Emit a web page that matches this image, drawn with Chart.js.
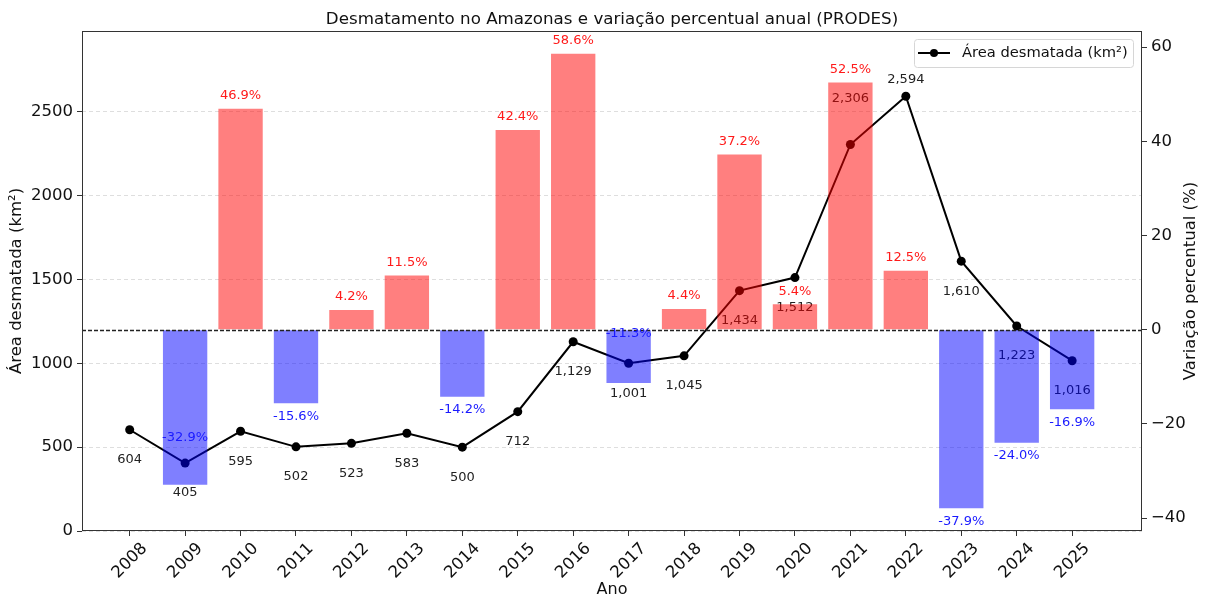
<!DOCTYPE html>
<html>
<head>
<meta charset="utf-8">
<script src="https://cdn.jsdelivr.net/npm/chart.js@4.4.1/dist/chart.umd.min.js"></script>
<style>
  html, body { margin: 0; padding: 0; background: #fff; }
</style>
</head>
<body>
<canvas id="chart" width="1205" height="598"></canvas>
<script>
// data
const years = [2008, 2009, 2010, 2011, 2012, 2013, 2014, 2015, 2016, 2017, 2018, 2019, 2020, 2021, 2022, 2023, 2024, 2025];
const area = [604, 405, 595, 502, 523, 583, 500, 712, 1129, 1001, 1045, 1434, 1512, 2306, 2594, 1610, 1223, 1016];
const pctChange = [null, -32.9, 46.9, -15.6, 4.2, 11.5, -14.2, 42.4, 58.6, -11.3, 4.4, 37.2, 5.4, 52.5, 12.5, -37.9, -24.0, -16.9];
const areaTicks = [0, 500, 1000, 1500, 2000, 2500];
const pctTicks = [-40, -20, 0, 20, 40, 60];

// label nudges (px) where the original labels were moved
const areaLabelGap = { 2021: -46, 2022: -17 };   // default: 30px below point
const pctLabelGap = { 2009: -47, 2017: -49 };    // default: 13px outside bar end

const FONT = "'DejaVu Sans', Verdana, sans-serif";
const TXT = '#111';

const annotate = {
  id: 'annotate',
  afterDatasetDraw(chart, args) {
    if (args.index !== 1) return;
    // area labels go under the translucent bars
    const ctx = chart.ctx;
    const meta = chart.getDatasetMeta(1);
    ctx.save();
    ctx.font = '13px ' + FONT;
    ctx.fillStyle = '#222';
    ctx.textAlign = 'center';
    ctx.textBaseline = 'middle';
    meta.data.forEach((pt, i) => {
      const gap = areaLabelGap[years[i]] !== undefined ? areaLabelGap[years[i]] : 30;
      ctx.fillText(area[i].toLocaleString('en-US'), pt.x, pt.y + gap);
    });
    ctx.restore();
  },
  afterDatasetsDraw(chart) {
    const ctx = chart.ctx;
    const ca = chart.chartArea;
    const y2 = chart.scales.y2;
    // zero line
    const y0 = Math.round(y2.getPixelForValue(0)) + 0.5;
    ctx.save();
    ctx.strokeStyle = '#222';
    ctx.lineWidth = 1.3;
    ctx.setLineDash([4, 2]);
    ctx.beginPath();
    ctx.moveTo(ca.left, y0);
    ctx.lineTo(ca.right, y0);
    ctx.stroke();
    ctx.setLineDash([]);

    // percentage labels
    const meta = chart.getDatasetMeta(0);
    ctx.font = '13px ' + FONT;
    ctx.textAlign = 'center';
    ctx.textBaseline = 'middle';
    meta.data.forEach((bar, i) => {
      const v = pctChange[i];
      if (v === null) return;
      const gap = pctLabelGap[years[i]] !== undefined ? pctLabelGap[years[i]] : 13;
      const end = y2.getPixelForValue(v);
      const y = v >= 0 ? end - gap : end + gap;
      ctx.fillStyle = v >= 0 ? '#ff1a1a' : '#1a1aff';
      ctx.fillText(v.toFixed(1) + '%', bar.x, y);
    });
    ctx.restore();
  },
  afterDraw(chart) {
    const ctx = chart.ctx;
    const ca = chart.chartArea;
    ctx.save();
    // frame
    ctx.strokeStyle = '#333';
    ctx.lineWidth = 1;
    ctx.strokeRect(Math.round(ca.left) + 0.5, Math.round(ca.top) + 0.5,
      Math.round(ca.right - ca.left) - 1, Math.round(ca.bottom - ca.top) - 1);

    // title
    ctx.fillStyle = TXT;
    ctx.font = '16.7px ' + FONT;
    ctx.textAlign = 'center';
    ctx.textBaseline = 'middle';
    ctx.fillText('Desmatamento no Amazonas e variação percentual anual (PRODES)', (ca.left + ca.right) / 2, 20);

    // right axis title, reading bottom to top
    ctx.save();
    ctx.translate(1191, (ca.top + ca.bottom) / 2);
    ctx.rotate(-Math.PI / 2);
    ctx.font = '16.5px ' + FONT;
    ctx.fillText('Variação percentual (%)', 0, 0);
    ctx.restore();

    // legend
    const bw = 219, bh = 28;
    const bx = ca.right - 9 - bw, by = ca.top + 8;
    ctx.fillStyle = 'rgba(255,255,255,0.85)';
    ctx.strokeStyle = '#d6d6d6';
    ctx.lineWidth = 1;
    ctx.beginPath();
    ctx.roundRect(bx + 0.5, by + 0.5, bw, bh, 3);
    ctx.fill();
    ctx.stroke();
    const ly = by + bh / 2;
    ctx.strokeStyle = '#000';
    ctx.lineWidth = 2;
    ctx.beginPath();
    ctx.moveTo(bx + 4, ly);
    ctx.lineTo(bx + 36, ly);
    ctx.stroke();
    ctx.fillStyle = '#000';
    ctx.beginPath();
    ctx.arc(bx + 20, ly, 4, 0, Math.PI * 2);
    ctx.fill();
    ctx.fillStyle = TXT;
    ctx.font = '14.7px ' + FONT;
    ctx.textAlign = 'left';
    ctx.fillText('Área desmatada (km²)', bx + 48, ly);
    ctx.restore();
  }
};

new Chart(document.getElementById('chart'), {
  type: 'bar',
  data: {
    datasets: [
      {
        type: 'bar',
        label: 'Variação percentual (%)',
        data: years.map((y, i) => ({ x: i, y: pctChange[i] })),
        yAxisID: 'y2',
        backgroundColor: pctChange.map(v => (v >= 0 ? 'rgba(255,0,0,0.5)' : 'rgba(0,0,255,0.5)')),
        borderWidth: 0,
        barPercentage: 0.8,
        categoryPercentage: 1,
        order: 0
      },
      {
        type: 'line',
        label: 'Área desmatada (km²)',
        data: years.map((y, i) => ({ x: i, y: area[i] })),
        yAxisID: 'y',
        borderColor: '#000',
        backgroundColor: '#000',
        borderWidth: 2,
        pointRadius: 4.5,
        pointBorderWidth: 0,
        pointBackgroundColor: '#000',
        tension: 0,
        order: 1
      }
    ]
  },
  options: {
    responsive: false,
    devicePixelRatio: 1,
    animation: false,
    layout: { padding: { top: 31, left: 0, right: 0, bottom: 0 } },
    plugins: {
      legend: { display: false },
      tooltip: { enabled: false },
      title: { display: false }
    },
    scales: {
      x: {
        type: 'linear',
        min: -0.86,
        max: 18.26,
        offset: false,
        afterBuildTicks: (s) => { s.ticks = years.map((y, i) => ({ value: i })); },
        afterFit: (s) => { s.height = 67; },
        ticks: {
          callback: (v) => years[v],
          autoSkip: false,
          minRotation: 45,
          maxRotation: 45,
          padding: 3,
          labelOffset: 15,
          color: TXT,
          font: { family: FONT, size: 16.5 }
        },
        grid: { offset: false, drawOnChartArea: false, tickLength: 5, tickColor: '#333' },
        border: { display: false },
        title: {
          display: true,
          text: 'Ano',
          color: TXT,
          font: { family: FONT, size: 16, lineHeight: 1 },
          padding: { top: 0, bottom: 0 }
        }
      },
      y: {
        position: 'left',
        min: 0,
        max: 2983,
        afterBuildTicks: (s) => { s.ticks = areaTicks.map(v => ({ value: v })); },
        afterFit: (s) => { s.width = 82; },
        ticks: {
          callback: (v) => String(v),
          padding: 4,
          color: TXT,
          font: { family: FONT, size: 16.5 }
        },
        grid: { color: 'rgba(0,0,0,0.13)', lineWidth: 1, tickLength: 5, tickColor: '#333' },
        border: { display: false, dash: [4, 3] },
        title: {
          display: true,
          text: 'Área desmatada (km²)',
          color: TXT,
          font: { family: FONT, size: 16.5 },
          padding: { top: 7, bottom: 0 }
        }
      },
      y2: {
        position: 'right',
        min: -42.725,
        max: 63.425,
        afterBuildTicks: (s) => { s.ticks = pctTicks.map(v => ({ value: v })); },
        afterFit: (s) => { s.width = 63; },
        ticks: {
          callback: (v) => String(v).replace('-', '\u2212'),
          padding: 4,
          color: TXT,
          font: { family: FONT, size: 16.5 }
        },
        grid: { drawOnChartArea: false, tickLength: 5, tickColor: '#333' },
        border: { display: false }
      }
    }
  },
  plugins: [annotate]
});
</script>
</body>
</html>
